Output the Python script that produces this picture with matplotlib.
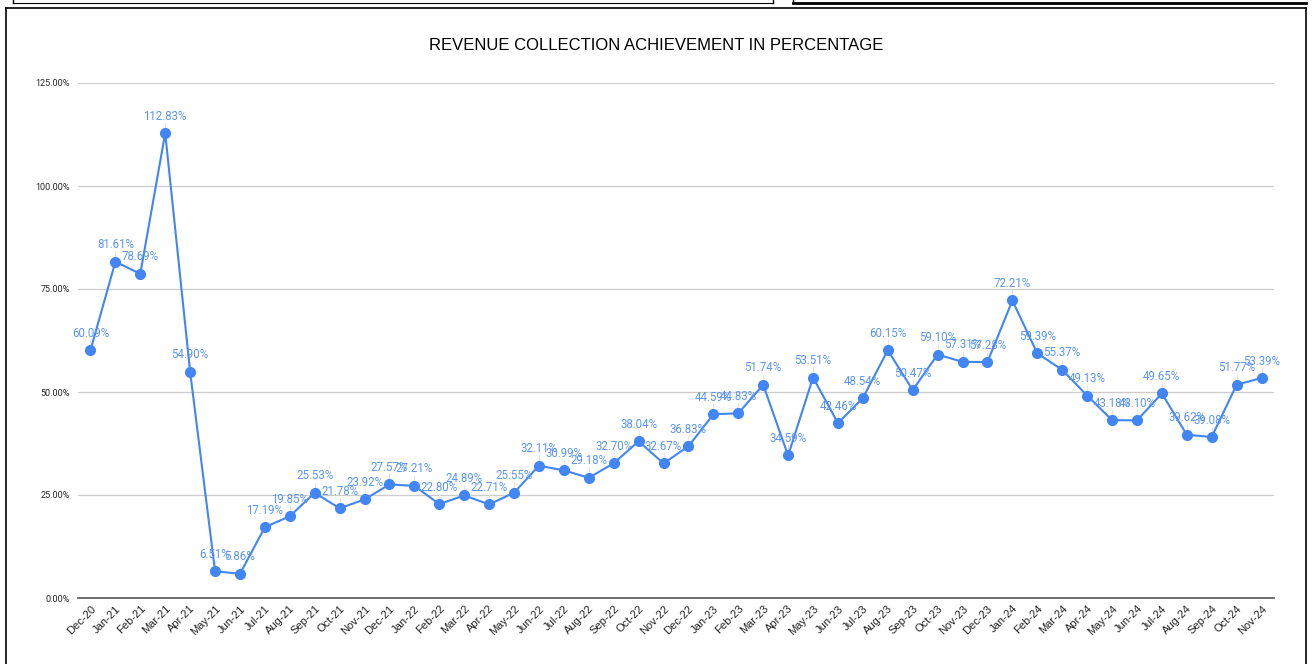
import matplotlib.pyplot as plt
from matplotlib.lines import Line2D

months = ['Dec-20', 'Jan-21', 'Feb-21', 'Mar-21', 'Apr-21', 'May-21', 'Jun-21',
          'Jul-21', 'Aug-21', 'Sep-21', 'Oct-21', 'Nov-21', 'Dec-21', 'Jan-22',
          'Feb-22', 'Mar-22', 'Apr-22', 'May-22', 'Jun-22', 'Jul-22', 'Aug-22',
          'Sep-22', 'Oct-22', 'Nov-22', 'Dec-22', 'Jan-23', 'Feb-23', 'Mar-23',
          'Apr-23', 'May-23', 'Jun-23', 'Jul-23', 'Aug-23', 'Sep-23', 'Oct-23',
          'Nov-23', 'Dec-23', 'Jan-24', 'Feb-24', 'Mar-24', 'Apr-24', 'May-24',
          'Jun-24', 'Jul-24', 'Aug-24', 'Sep-24', 'Oct-24', 'Nov-24']
achievement = [60.09, 81.61, 78.69, 112.83, 54.90, 6.51, 5.86,
               17.19, 19.85, 25.53, 21.78, 23.92, 27.57, 27.21,
               22.80, 24.89, 22.71, 25.55, 32.11, 30.99, 29.18,
               32.70, 38.04, 32.67, 36.83, 44.59, 44.83, 51.74,
               34.59, 53.51, 42.46, 48.54, 60.15, 50.47, 59.10,
               57.31, 57.28, 72.21, 59.39, 55.37, 49.13, 43.18,
               43.10, 49.65, 39.62, 39.08, 51.77, 53.39]
y_ticks = [0, 25, 50, 75, 100, 125]

blue = '#4285f4'
label_blue = '#5a95f5'

fig = plt.figure(figsize=(13.12, 6.64), dpi=100)
ax = fig.add_axes([78 / 1312, 1 - 598 / 664, (1274 - 78) / 1312, (598 - 83) / 664])

x = list(range(len(months)))
ax.plot(x, achievement, color=blue, lw=1.5, marker='o', ms=7, zorder=3)

for xi, v in zip(x, achievement):
    ax.plot([xi, xi], [v, v + 2.5], color='#e6e6e6', lw=0.8, zorder=1)
    ax.annotate(f'{v:.2f}%', (xi, v), xytext=(0, 7.5), textcoords='offset points',
                ha='center', va='bottom', fontsize=8.3, color=label_blue,
                family='Roboto', zorder=4)

ax.set_xlim(-0.5, len(months) - 0.5)
ax.set_ylim(0, 125)
ax.set_yticks(y_ticks)
ax.set_yticklabels([f'{t:.2f}%' for t in y_ticks], fontsize=6.5, family='Roboto', color='#222222')
ax.set_xticks(x)
ax.set_xticklabels(months, rotation=45, ha='right', rotation_mode='anchor',
                   fontsize=8, family='Liberation Sans', color='#222222')
ax.tick_params(length=0, pad=6)
ax.tick_params(axis='x', pad=4)
ax.grid(axis='y', color='#cccccc', lw=0.9)
ax.set_axisbelow(True)
for s in ['top', 'right', 'left']:
    ax.spines[s].set_visible(False)
ax.spines['bottom'].set_color('#555555')
ax.spines['bottom'].set_linewidth(1.2)

fig.text(656 / 1312, 1 - 46 / 664, 'REVENUE COLLECTION ACHIEVEMENT IN PERCENTAGE',
         ha='center', va='center', fontsize=12, family='Liberation Sans')

# surrounding frame and cell borders
W, H = 1312, 664
def fl(x0, y0, x1, y1, lw=1.0):
    fig.add_artist(Line2D([x0 / W, x1 / W], [1 - y0 / H, 1 - y1 / H],
                          color='black', lw=lw, transform=fig.transFigure))

fl(6, 8, 1306, 8, 1.2)
fl(6, 8, 6, 664, 1.2)
fl(1306, 8, 1306, 664, 1.2)
fl(13, 0, 13, 3)
fl(13, 3, 773, 3, 0.8)
fl(773, 0, 773, 3)
fl(793, 0, 793, 3)
fl(793, 3, 1306, 3, 2.0)

fig.savefig('out.png', dpi=100)
